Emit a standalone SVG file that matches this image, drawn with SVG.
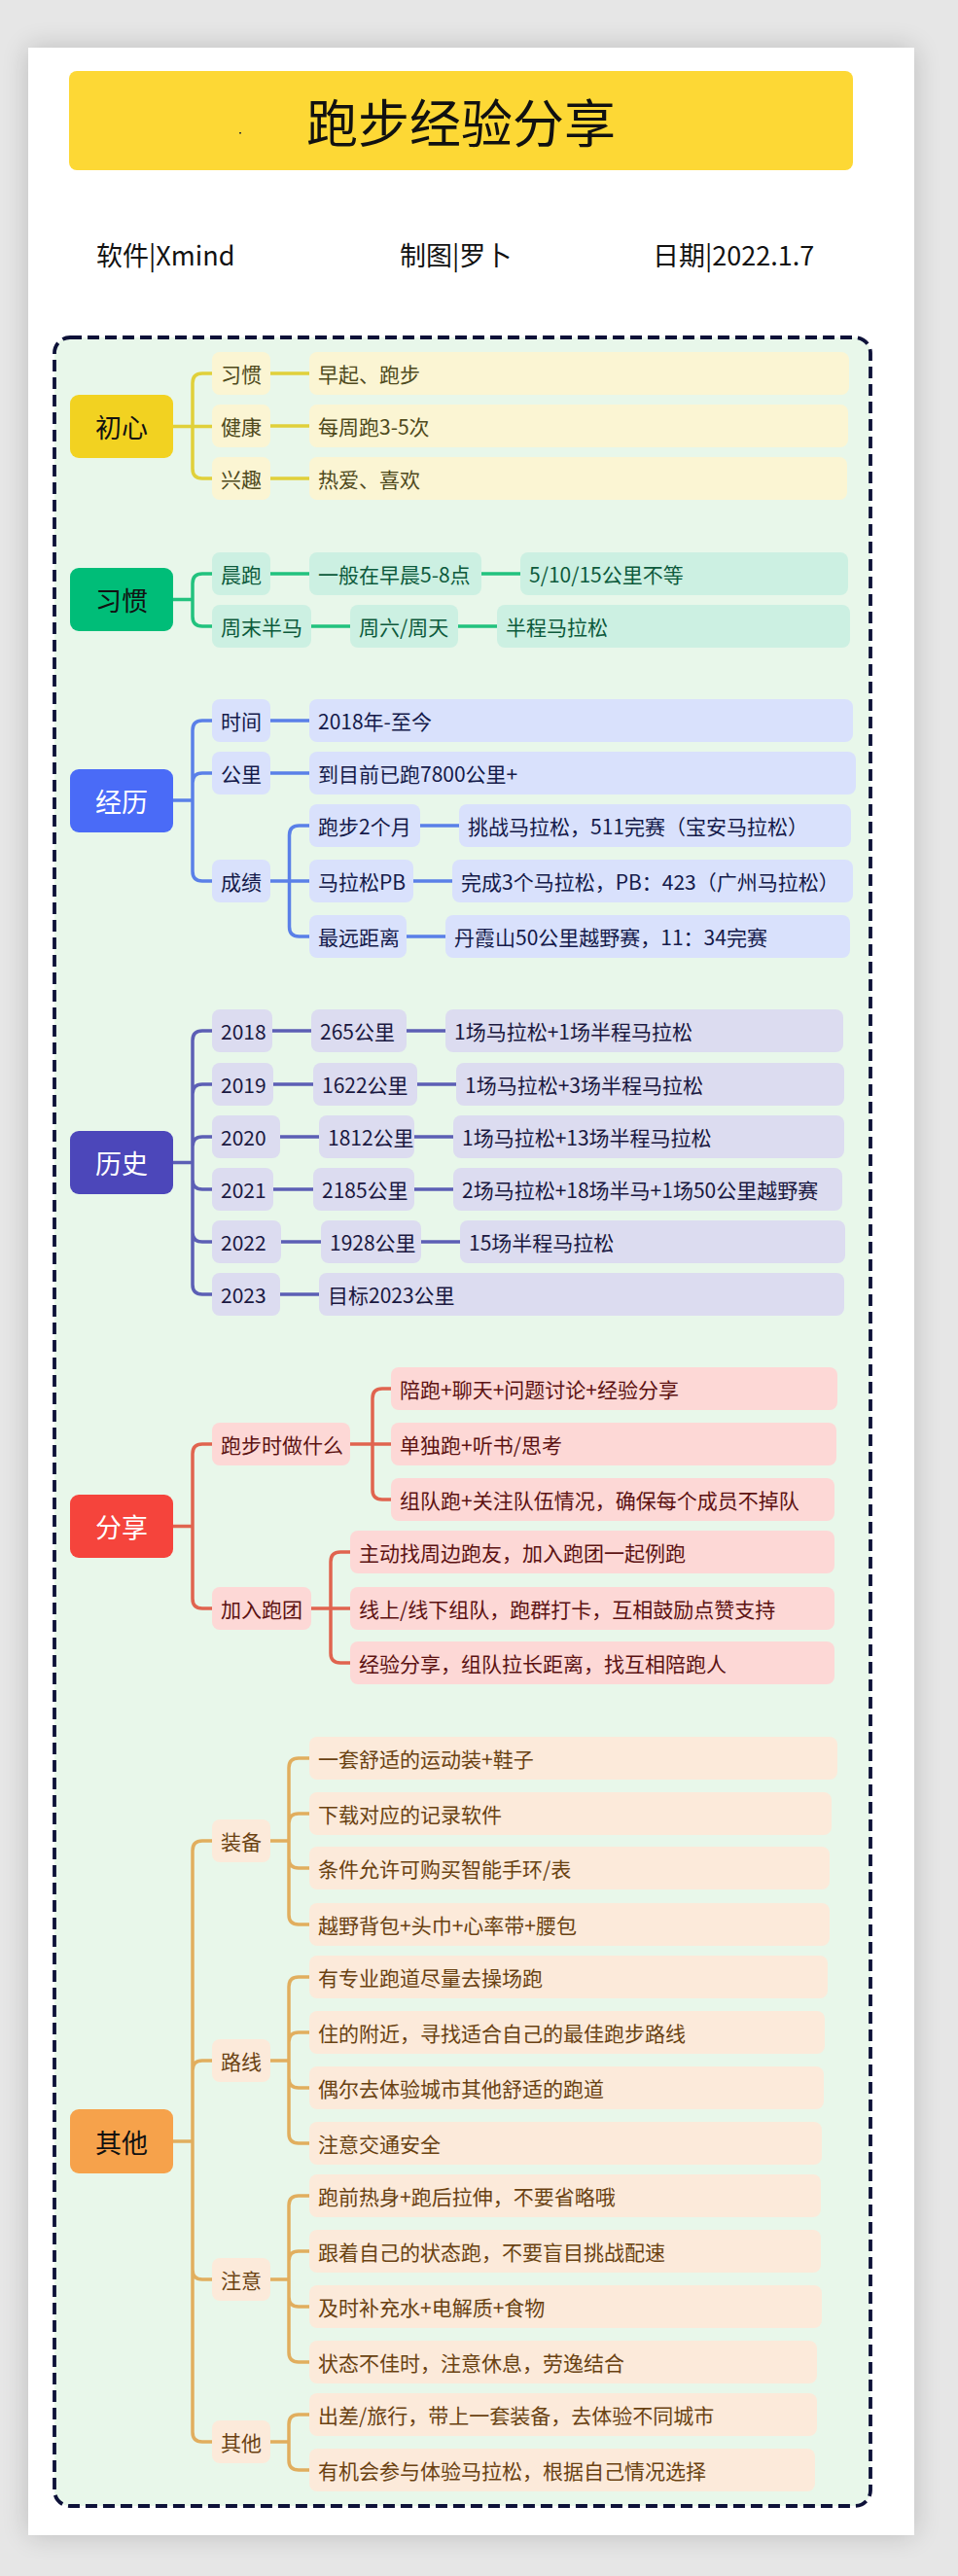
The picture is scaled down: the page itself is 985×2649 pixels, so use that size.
<svg xmlns="http://www.w3.org/2000/svg" width="985" height="2649" viewBox="0 0 985 2649">
<defs>
<filter id="sh" x="-10%" y="-10%" width="120%" height="120%"><feGaussianBlur stdDeviation="14"/></filter>
<style>
text{font-family:"Noto Sans CJK SC","Noto Sans",sans-serif;}
.t{font-size:21px;dominant-baseline:central}
.mt{font-size:27px;text-anchor:middle;dominant-baseline:central}
.sub{font-size:27px;dominant-baseline:central;fill:#111}
.k1 rect{fill:#FBF5D3}.k1 text{fill:#4f4a1c}
.k2 rect{fill:#CCF0E2}.k2 text{fill:#0d5a3c}
.k3 rect{fill:#D9E1FC}.k3 text{fill:#141a4a}
.k4 rect{fill:#DCDCF0}.k4 text{fill:#1a1840}
.k5 rect{fill:#FDD8D6}.k5 text{fill:#5c1212}
.k6 rect{fill:#FCEADA}.k6 text{fill:#6a4212}
.m1 rect{fill:#F2D221}.m1 text{fill:#111}
.m2 rect{fill:#00BD78}.m2 text{fill:#111}
.m3 rect{fill:#4A6BF7}.m3 text{fill:#fff}
.m4 rect{fill:#4C47BA}.m4 text{fill:#fff}
.m5 rect{fill:#F5443C}.m5 text{fill:#fff}
.m6 rect{fill:#F6A24B}.m6 text{fill:#111}
#connectors path{fill:none;stroke-width:3.5}
.l1{stroke:#E0D03A}.l2{stroke:#22C27E}.l3{stroke:#5A80E8}.l4{stroke:#5C5FB5}.l5{stroke:#E0644F}.l6{stroke:#E1AE5E}
</style>
</defs>
<rect x="0" y="0" width="985" height="2649" fill="#E6E6E6"/>
<rect x="29" y="49" width="911" height="2558" fill="#000" opacity="0.18" filter="url(#sh)"/>
<rect x="29" y="49" width="911" height="2558" fill="#FFFFFF"/>
<g id="title">
<rect x="71" y="73" width="806" height="102" rx="8" fill="#FDD835"/>
<rect x="246" y="136" width="2" height="1.5" fill="#333"/>
<text x="474" y="124" font-size="53" text-anchor="middle" dominant-baseline="central" fill="#111">跑步经验分享</text>
</g>
<g id="subtitle">
<text class="sub" x="99" y="261">软件|Xmind</text>
<text class="sub" x="411" y="261">制图|罗卜</text>
<text class="sub" x="671" y="261">日期|2022.1.7</text>
</g>
<rect id="frame" x="56" y="347" width="839" height="2230" rx="16" fill="#E8F7EA" stroke="#0D1138" stroke-width="3.8" stroke-dasharray="12 6"/>

<g id="connectors">
<path class="l1" d="M178,438.5 H198 M198,438.5 V394 Q198,384 208,384 H218 M198,438.5 H218 M198,438.5 V482 Q198,492 208,492 H218 M278,384 H318 M278,438 H318 M278,492 H318"/>
<path class="l2" d="M178,616.5 H198 M198,616.5 V600 Q198,590 208,590 H218 M198,616.5 V634 Q198,644 208,644 H218 M278,590 H318 M495,590 H535 M320,644 H360 M471,644 H511"/>
<path class="l3" d="M178,823 H198 M198,823 V751 Q198,741 208,741 H218 M198,823 V805 Q198,795 208,795 H218 M198,823 V896 Q198,906 208,906 H218 M278,741 H318 M278,795 H318 M278,906 H297.5 M297.5,906 V859 Q297.5,849 307.5,849 H318 M297.5,906 H318 M297.5,906 V953 Q297.5,963 307.5,963 H318 M432,849 H472 M425,906 H465 M418,963 H458"/>
<path class="l4" d="M178,1195.5 H198 M198,1195.5 V1070 Q198,1060 208,1060 H218 M198,1195.5 V1125 Q198,1115 208,1115 H218 M198,1195.5 V1179 Q198,1169 208,1169 H218 M198,1195.5 V1213 Q198,1223 208,1223 H218 M198,1195.5 V1267 Q198,1277 208,1277 H218 M198,1195.5 V1321 Q198,1331 208,1331 H218 M280,1060 H320 M418,1060 H458 M281,1115 H322 M429,1115 H469 M288,1169 H328 M426,1169 H466 M281,1223 H322 M426,1223 H466 M289,1277 H330 M433,1277 H473 M288,1331 H328"/>
<path class="l5" d="M178,1569.5 H198 M198,1569.5 V1495 Q198,1485 208,1485 H218 M198,1569.5 V1644 Q198,1654 208,1654 H218 M360,1485 H383 M383,1485 V1438 Q383,1428 393,1428 H402 M383,1485 H402 M383,1485 V1532 Q383,1542 393,1542 H402 M320,1654 H340 M340,1654 V1606 Q340,1596 350,1596 H360 M340,1654 H360 M340,1654 V1700 Q340,1710 350,1710 H360"/>
<path class="l6" d="M178,2202 H198 M198,2202 V1903 Q198,1893 208,1893 H218 M198,2202 V2129 Q198,2119 208,2119 H218 M198,2202 V2334 Q198,2344 208,2344 H218 M198,2202 V2501 Q198,2511 208,2511 H218 M278,1893 H297 M297,1893 V1818 Q297,1808 307,1808 H318 M297,1893 V1875 Q297,1865 307,1865 H318 M297,1893 V1911 Q297,1921 307,1921 H318 M297,1893 V1969 Q297,1979 307,1979 H318 M278,2119 H297 M297,2119 V2043 Q297,2033 307,2033 H318 M297,2119 V2100 Q297,2090 307,2090 H318 M297,2119 V2137 Q297,2147 307,2147 H318 M297,2119 V2194 Q297,2204 307,2204 H318 M278,2344 H297 M297,2344 V2268 Q297,2258 307,2258 H318 M297,2344 V2325 Q297,2315 307,2315 H318 M297,2344 V2362 Q297,2372 307,2372 H318 M297,2344 V2419 Q297,2429 307,2429 H318 M278,2511 H297 M297,2511 V2493 Q297,2483 307,2483 H318 M297,2511 V2530 Q297,2540 307,2540 H318"/>
</g>

<!-- 初心 -->
<g id="n-chuxin" class="m1"><rect x="72" y="406" width="106" height="65" rx="9"/><text class="mt" x="125" y="438.5">初心</text></g>
<g id="n-xiguan1" class="k1"><rect x="218" y="362" width="60" height="44" rx="8"/><text class="t" x="227" y="384">习惯</text></g>
<g id="n-jiankang" class="k1"><rect x="218" y="416" width="60" height="44" rx="8"/><text class="t" x="227" y="438">健康</text></g>
<g id="n-xingqu" class="k1"><rect x="218" y="470" width="60" height="44" rx="8"/><text class="t" x="227" y="492">兴趣</text></g>
<g id="n-zaoqi" class="k1"><rect x="318" y="362" width="555" height="44" rx="8"/><text class="t" x="327" y="384">早起、跑步</text></g>
<g id="n-meizhou" class="k1"><rect x="318" y="416" width="554" height="44" rx="8"/><text class="t" x="327" y="438">每周跑3-5次</text></g>
<g id="n-reai" class="k1"><rect x="318" y="470" width="553" height="44" rx="8"/><text class="t" x="327" y="492">热爱、喜欢</text></g>

<!-- 习惯 -->
<g id="n-xiguan" class="m2"><rect x="72" y="584" width="106" height="65" rx="9"/><text class="mt" x="125" y="616.5">习惯</text></g>
<g id="n-chenpao" class="k2"><rect x="218" y="568" width="60" height="44" rx="8"/><text class="t" x="227" y="590">晨跑</text></g>
<g id="n-yiban" class="k2"><rect x="318" y="568" width="177" height="44" rx="8"/><text class="t" x="327" y="590">一般在早晨5-8点</text></g>
<g id="n-5101" class="k2"><rect x="535" y="568" width="337" height="44" rx="8"/><text class="t" x="544" y="590">5/10/15公里不等</text></g>
<g id="n-zhoumo" class="k2"><rect x="218" y="622" width="102" height="44" rx="8"/><text class="t" x="227" y="644">周末半马</text></g>
<g id="n-zhouliu" class="k2"><rect x="360" y="622" width="111" height="44" rx="8"/><text class="t" x="369" y="644">周六/周天</text></g>
<g id="n-banma" class="k2"><rect x="511" y="622" width="363" height="44" rx="8"/><text class="t" x="520" y="644">半程马拉松</text></g>

<!-- 经历 -->
<g id="n-jingli" class="m3"><rect x="72" y="791" width="106" height="65" rx="9"/><text class="mt" x="125" y="823">经历</text></g>
<g id="n-shijian" class="k3"><rect x="218" y="719" width="60" height="44" rx="8"/><text class="t" x="227" y="741">时间</text></g>
<g id="n-2018zhi" class="k3"><rect x="318" y="719" width="559" height="44" rx="8"/><text class="t" x="327" y="741">2018年-至今</text></g>
<g id="n-gongli" class="k3"><rect x="218" y="773" width="60" height="44" rx="8"/><text class="t" x="227" y="795">公里</text></g>
<g id="n-7800" class="k3"><rect x="318" y="773" width="562" height="44" rx="8"/><text class="t" x="327" y="795">到目前已跑7800公里+</text></g>
<g id="n-chengji" class="k3"><rect x="218" y="884" width="60" height="44" rx="8"/><text class="t" x="227" y="906">成绩</text></g>
<g id="n-paobu2" class="k3"><rect x="318" y="827" width="114" height="44" rx="8"/><text class="t" x="327" y="849">跑步2个月</text></g>
<g id="n-tiaozhan" class="k3"><rect x="472" y="827" width="403" height="44" rx="8"/><text class="t" x="481" y="849">挑战马拉松，511完赛（宝安马拉松）</text></g>
<g id="n-pb" class="k3"><rect x="318" y="884" width="107" height="44" rx="8"/><text class="t" x="327" y="906">马拉松PB</text></g>
<g id="n-wancheng" class="k3"><rect x="465" y="884" width="412" height="44" rx="8"/><text class="t" x="474" y="906">完成3个马拉松，PB：423（广州马拉松）</text></g>
<g id="n-zuiyuan" class="k3"><rect x="318" y="941" width="100" height="44" rx="8"/><text class="t" x="327" y="963">最远距离</text></g>
<g id="n-danxia" class="k3"><rect x="458" y="941" width="416" height="44" rx="8"/><text class="t" x="467" y="963">丹霞山50公里越野赛，11：34完赛</text></g>

<!-- 历史 -->
<g id="n-lishi" class="m4"><rect x="72" y="1163" width="106" height="65" rx="9"/><text class="mt" x="125" y="1195.5">历史</text></g>
<g id="n-y2018" class="k4"><rect x="218" y="1038" width="62" height="44" rx="8"/><text class="t" x="227" y="1060">2018</text></g>
<g id="n-k265" class="k4"><rect x="320" y="1038" width="98" height="44" rx="8"/><text class="t" x="329" y="1060">265公里</text></g>
<g id="n-r2018" class="k4"><rect x="458" y="1038" width="409" height="44" rx="8"/><text class="t" x="467" y="1060">1场马拉松+1场半程马拉松</text></g>
<g id="n-y2019" class="k4"><rect x="218" y="1093" width="63" height="44" rx="8"/><text class="t" x="227" y="1115">2019</text></g>
<g id="n-k1622" class="k4"><rect x="322" y="1093" width="107" height="44" rx="8"/><text class="t" x="331" y="1115">1622公里</text></g>
<g id="n-r2019" class="k4"><rect x="469" y="1093" width="399" height="44" rx="8"/><text class="t" x="478" y="1115">1场马拉松+3场半程马拉松</text></g>
<g id="n-y2020" class="k4"><rect x="218" y="1147" width="70" height="44" rx="8"/><text class="t" x="227" y="1169">2020</text></g>
<g id="n-k1812" class="k4"><rect x="328" y="1147" width="98" height="44" rx="8"/><text class="t" x="337" y="1169">1812公里</text></g>
<g id="n-r2020" class="k4"><rect x="466" y="1147" width="402" height="44" rx="8"/><text class="t" x="475" y="1169">1场马拉松+13场半程马拉松</text></g>
<g id="n-y2021" class="k4"><rect x="218" y="1201" width="63" height="44" rx="8"/><text class="t" x="227" y="1223">2021</text></g>
<g id="n-k2185" class="k4"><rect x="322" y="1201" width="104" height="44" rx="8"/><text class="t" x="331" y="1223">2185公里</text></g>
<g id="n-r2021" class="k4"><rect x="466" y="1201" width="400" height="44" rx="8"/><text class="t" x="475" y="1223">2场马拉松+18场半马+1场50公里越野赛</text></g>
<g id="n-y2022" class="k4"><rect x="218" y="1255" width="71" height="44" rx="8"/><text class="t" x="227" y="1277">2022</text></g>
<g id="n-k1928" class="k4"><rect x="330" y="1255" width="103" height="44" rx="8"/><text class="t" x="339" y="1277">1928公里</text></g>
<g id="n-r2022" class="k4"><rect x="473" y="1255" width="396" height="44" rx="8"/><text class="t" x="482" y="1277">15场半程马拉松</text></g>
<g id="n-y2023" class="k4"><rect x="218" y="1309" width="70" height="44" rx="8"/><text class="t" x="227" y="1331">2023</text></g>
<g id="n-k2023" class="k4"><rect x="328" y="1309" width="540" height="44" rx="8"/><text class="t" x="337" y="1331">目标2023公里</text></g>

<!-- 分享 -->
<g id="n-fenxiang" class="m5"><rect x="72" y="1537" width="106" height="65" rx="9"/><text class="mt" x="125" y="1569.5">分享</text></g>
<g id="n-paobushi" class="k5"><rect x="218" y="1463" width="142" height="44" rx="8"/><text class="t" x="227" y="1485">跑步时做什么</text></g>
<g id="n-peipao" class="k5"><rect x="402" y="1406" width="459" height="44" rx="8"/><text class="t" x="411" y="1428">陪跑+聊天+问题讨论+经验分享</text></g>
<g id="n-dandu" class="k5"><rect x="402" y="1463" width="458" height="44" rx="8"/><text class="t" x="411" y="1485">单独跑+听书/思考</text></g>
<g id="n-zudui" class="k5"><rect x="402" y="1520" width="456" height="44" rx="8"/><text class="t" x="411" y="1542">组队跑+关注队伍情况，确保每个成员不掉队</text></g>
<g id="n-jiaru" class="k5"><rect x="218" y="1632" width="102" height="44" rx="8"/><text class="t" x="227" y="1654">加入跑团</text></g>
<g id="n-zhudong" class="k5"><rect x="360" y="1574" width="498" height="44" rx="8"/><text class="t" x="369" y="1596">主动找周边跑友，加入跑团一起例跑</text></g>
<g id="n-xianshang" class="k5"><rect x="360" y="1632" width="498" height="44" rx="8"/><text class="t" x="369" y="1654">线上/线下组队，跑群打卡，互相鼓励点赞支持</text></g>
<g id="n-jingyan" class="k5"><rect x="360" y="1688" width="498" height="44" rx="8"/><text class="t" x="369" y="1710">经验分享，组队拉长距离，找互相陪跑人</text></g>

<!-- 其他 -->
<g id="n-qita" class="m6"><rect x="72" y="2169" width="106" height="66" rx="9"/><text class="mt" x="125" y="2202">其他</text></g>
<g id="n-zhuangbei" class="k6"><rect x="218" y="1871" width="60" height="44" rx="8"/><text class="t" x="227" y="1893">装备</text></g>
<g id="n-yitao" class="k6"><rect x="318" y="1786" width="543" height="44" rx="8"/><text class="t" x="327" y="1808">一套舒适的运动装+鞋子</text></g>
<g id="n-xiazai" class="k6"><rect x="318" y="1843" width="537" height="44" rx="8"/><text class="t" x="327" y="1865">下载对应的记录软件</text></g>
<g id="n-tiaojian" class="k6"><rect x="318" y="1899" width="535" height="44" rx="8"/><text class="t" x="327" y="1921">条件允许可购买智能手环/表</text></g>
<g id="n-yueye" class="k6"><rect x="318" y="1957" width="535" height="44" rx="8"/><text class="t" x="327" y="1979">越野背包+头巾+心率带+腰包</text></g>
<g id="n-luxian" class="k6"><rect x="218" y="2097" width="60" height="44" rx="8"/><text class="t" x="227" y="2119">路线</text></g>
<g id="n-zhuanye" class="k6"><rect x="318" y="2011" width="533" height="44" rx="8"/><text class="t" x="327" y="2033">有专业跑道尽量去操场跑</text></g>
<g id="n-zhude" class="k6"><rect x="318" y="2068" width="530" height="44" rx="8"/><text class="t" x="327" y="2090">住的附近，寻找适合自己的最佳跑步路线</text></g>
<g id="n-ouer" class="k6"><rect x="318" y="2125" width="529" height="44" rx="8"/><text class="t" x="327" y="2147">偶尔去体验城市其他舒适的跑道</text></g>
<g id="n-jiaotong" class="k6"><rect x="318" y="2182" width="527" height="44" rx="8"/><text class="t" x="327" y="2204">注意交通安全</text></g>
<g id="n-zhuyi" class="k6"><rect x="218" y="2322" width="60" height="44" rx="8"/><text class="t" x="227" y="2344">注意</text></g>
<g id="n-paoqian" class="k6"><rect x="318" y="2236" width="526" height="44" rx="8"/><text class="t" x="327" y="2258">跑前热身+跑后拉伸，不要省略哦</text></g>
<g id="n-genzhe" class="k6"><rect x="318" y="2293" width="526" height="44" rx="8"/><text class="t" x="327" y="2315">跟着自己的状态跑，不要盲目挑战配速</text></g>
<g id="n-jishi" class="k6"><rect x="318" y="2350" width="527" height="44" rx="8"/><text class="t" x="327" y="2372">及时补充水+电解质+食物</text></g>
<g id="n-zhuangtai" class="k6"><rect x="318" y="2407" width="522" height="44" rx="8"/><text class="t" x="327" y="2429">状态不佳时，注意休息，劳逸结合</text></g>
<g id="n-qita2" class="k6"><rect x="218" y="2489" width="60" height="44" rx="8"/><text class="t" x="227" y="2511">其他</text></g>
<g id="n-chuchai" class="k6"><rect x="318" y="2461" width="522" height="44" rx="8"/><text class="t" x="327" y="2483">出差/旅行，带上一套装备，去体验不同城市</text></g>
<g id="n-jihui" class="k6"><rect x="318" y="2518" width="520" height="44" rx="8"/><text class="t" x="327" y="2540">有机会参与体验马拉松，根据自己情况选择</text></g>
</svg>
